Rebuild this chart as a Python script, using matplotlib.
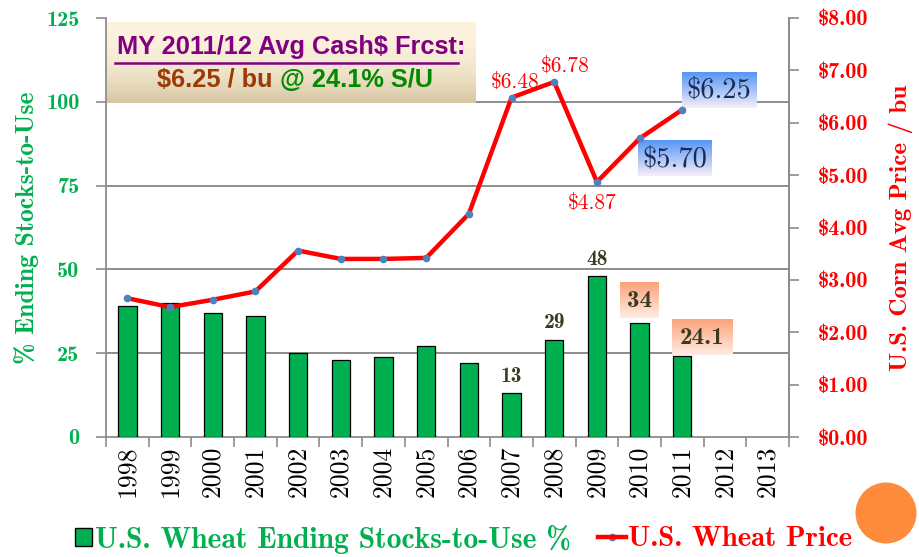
import numpy as np
import matplotlib
matplotlib.use("Agg")
import matplotlib.pyplot as plt
from matplotlib.patches import Rectangle, Ellipse
from matplotlib.lines import Line2D
from matplotlib.colors import to_rgb

# ---- data -------------------------------------------------------------
years = ["1998", "1999", "2000", "2001", "2002", "2003", "2004", "2005",
         "2006", "2007", "2008", "2009", "2010", "2011", "2012", "2013"]
stocks_to_use = [39.0, 40.0, 37.0, 36.0, 25.0, 23.0, 24.0, 27.0,
                 22.2, 13.0, 29.0, 48.0, 34.0, 24.1]
price = [2.65, 2.48, 2.62, 2.78, 3.56, 3.40, 3.40, 3.42,
         4.26, 6.48, 6.78, 4.87, 5.70, 6.25]
price_labels = {"2007": 6.48, "2008": 6.78, "2009": 4.87}
stock_labels = {"2007": 13, "2008": 29, "2009": 48}
boxed_stock_labels = {"2010": 34.0, "2011": 24.1}
boxed_price_labels = {"2010": 5.70, "2011": 6.25}
left_ticks = [0, 25, 50, 75, 100, 125]
right_ticks = [0, 1, 2, 3, 4, 5, 6, 7, 8]

GREEN = "#00B050"
RED = "#FF0000"
GRAY = "#8C8C8C"
DARK = "#3A3A1E"

W, H = 919, 557
fig = plt.figure(figsize=(W / 100, H / 100), dpi=100)


def fx(px):
    return px / W


def fy(py):
    return 1 - py / H


def gradient(ax, extent, top, bottom, power=1.0, zorder=1):
    t = np.linspace(0, 1, 64) ** power
    c0, c1 = np.array(to_rgb(top)), np.array(to_rgb(bottom))
    img = (c0[None, :] * (1 - t[:, None]) + c1[None, :] * t[:, None])[:, None, :]
    ax.imshow(img, extent=extent, aspect="auto", origin="upper",
              interpolation="bilinear", zorder=zorder)


ax = fig.add_axes([fx(106), fy(437), fx(789 - 106), (437 - 18) / H])
ax2 = ax.twinx()

x = np.arange(len(years))
idx = {y: i for i, y in enumerate(years)}

# bars: stocks-to-use
ax.bar(x[:len(stocks_to_use)], stocks_to_use, width=0.43, color=GREEN,
       edgecolor="black", linewidth=0.9, zorder=3)
for y in (25, 50, 75, 100):
    ax.axhline(y, color=GRAY, lw=1.4, zorder=1)

for yr, v in stock_labels.items():
    ax.text(idx[yr], v + 2.2, f"{v}", ha="center", va="bottom",
            family="cmb10", fontsize=15.5, color=DARK, zorder=5)

# shaded boxes for the forecast-year stocks labels
box_specs_stock = {"2010": (-0.46, 0.45, 35.4, 46.1, 18),
                   "2011": (-0.24, 1.17, 24.6, 35.3, 18)}
for yr, v in boxed_stock_labels.items():
    dx0, dx1, y0, y1, fs = box_specs_stock[yr]
    gradient(ax, (idx[yr] + dx0, idx[yr] + dx1, y0, y1), "#FBA27A", "#FFEDE4",
             power=1.0, zorder=4)
    ax.text(idx[yr] + (dx0 + dx1) / 2, (y0 + y1) / 2 - 0.3, f"{v:g}",
            ha="center", va="center", family="cmb10", fontsize=fs,
            color=DARK, zorder=5)

ax.set_xlim(-0.5, len(years) - 0.5)
ax.set_ylim(0, 125)
ax.set_yticks(left_ticks)
ax.set_yticklabels([str(t) for t in left_ticks], family="cmb10",
                   fontsize=16, color=GREEN)
ax.set_xticks(np.arange(len(years) + 1) - 0.5)
ax.set_xticklabels([])
ax.set_xticks(x, minor=True)
ax.set_xticklabels(years, minor=True, rotation=90, family="cmr10",
                   fontsize=18.5, color="black")
ax.tick_params(axis="x", which="major", length=7, color=GRAY, width=1.2)
ax.tick_params(axis="x", which="minor", length=0, pad=6)
ax.tick_params(axis="y", length=7, color=GRAY, width=1.2, pad=12)
ax.set_ylabel("% Ending Stocks-to-Use", family="cmb10", fontsize=18.5,
              color=GREEN, labelpad=5)
ax.spines["top"].set_visible(False)
for s in ("left", "bottom", "right"):
    ax.spines[s].set_color(GRAY)
    ax.spines[s].set_linewidth(1.3)

# price line
ax2.plot(x[:len(price)], price, color=RED, lw=3.2, marker="o",
         markersize=4.5, markerfacecolor="#4F81BD", markeredgecolor="#4F81BD",
         zorder=4, solid_joinstyle="miter")
label_off = {"2007": (0.08, 0.30), "2008": (0.25, 0.30), "2009": (-0.12, -0.40)}
for yr, v in price_labels.items():
    ddx, ddy = label_off[yr]
    ax2.text(idx[yr] + ddx, v + ddy, f"${v:.2f}", ha="center", va="center",
             family="cmr10", fontsize=15.5, color=RED, zorder=5)

box_specs_price = {"2011": (-0.01, 1.73, 6.29, 6.97),
                   "2010": (-0.04, 1.69, 4.99, 5.66)}
for yr, v in boxed_price_labels.items():
    dx0, dx1, y0, y1 = box_specs_price[yr]
    gradient(ax2, (idx[yr] + dx0, idx[yr] + dx1, y0, y1), "#5596F5", "#F6EEF8",
             power=1.0, zorder=3)
    ax2.text(idx[yr] + (dx0 + dx1) / 2, (y0 + y1) / 2 - 0.02, f"${v:.2f}",
             ha="center", va="center", family="cmr10", fontsize=20.5,
             color="#1B2A55", zorder=5)

ax2.set_xlim(-0.5, len(years) - 0.5)
ax2.set_ylim(0, 8)
ax2.set_yticks(right_ticks)
ax2.set_yticklabels([f"${t:.2f}" for t in right_ticks], family="cmb10",
                    fontsize=16, color=RED)
ax2.tick_params(axis="y", length=7, color=GRAY, width=1.2, pad=14)
ax2.set_ylabel("U.S. Corn Avg Price / bu", family="cmb10", fontsize=18,
               color=RED, labelpad=14)
for s in ("top", "left", "bottom"):
    ax2.spines[s].set_visible(False)
ax2.spines["right"].set_color(GRAY)
ax2.spines["right"].set_linewidth(1.3)

# forecast banner
bax = fig.add_axes([fx(107), fy(103), fx(475 - 107), (103 - 22) / H])
bax.set_xlim(0, 1)
bax.set_ylim(0, 1)
bax.axis("off")
gradient(bax, (0, 1, 0, 1), "#FCF2DE", "#D6C7A2", power=2.2)
bax.text(0.5, 0.69, "MY 2011/12 Avg Cash$ Frcst:", ha="center", va="center",
         family="Liberation Sans", weight="bold", fontsize=18.3,
         color="#800080")
bax.plot([0.022, 0.955], [0.50, 0.50], color="#800080", lw=1.8)
bax.text(0.135, 0.29, "$6.25 / bu", ha="left", va="center",
         family="Liberation Sans", weight="bold", fontsize=18.3,
         color="#9C3A06")
bax.text(0.47, 0.29, "@ 24.1% S/U", ha="left", va="center",
         family="Liberation Sans", weight="bold", fontsize=18.3,
         color="#008A00")

# legend
fig.patches.append(Rectangle((fx(75), fy(546)), fx(17), (546 - 528) / H,
                             transform=fig.transFigure, facecolor=GREEN,
                             edgecolor="black", lw=1.0))
fig.text(fx(95), fy(539), "U.S. Wheat Ending Stocks-to-Use %", ha="left",
         va="center", family="cmb10", fontsize=21.3, color=GREEN)
fig.lines.append(Line2D([fx(598), fx(626)], [fy(537), fy(537)],
                        transform=fig.transFigure, color=RED, lw=3.2,
                        zorder=3))
fig.lines.append(Line2D([fx(612)], [fy(537)], transform=fig.transFigure,
                        marker="o", markersize=4.5, color="#4F81BD", lw=0))
fig.text(fx(628), fy(539), "U.S. Wheat Price", ha="left", va="center",
         family="cmb10", fontsize=20.8, color=RED)

# decorative dot
fig.patches.append(Ellipse((fx(886), fy(513)), fx(61), 61 / H,
                           transform=fig.transFigure, facecolor="#FD8B3B",
                           edgecolor="none"))

fig.savefig("out.png", dpi=100)
